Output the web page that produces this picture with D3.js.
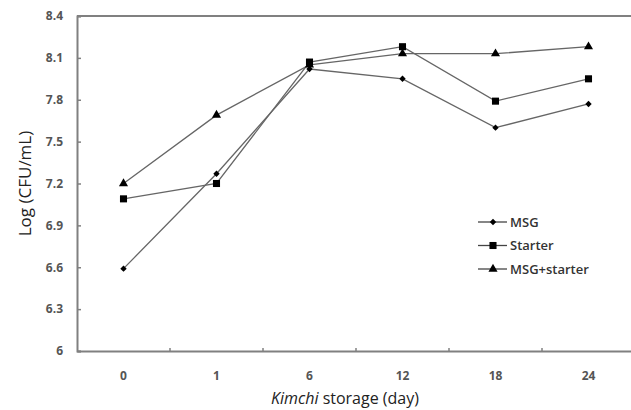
<!DOCTYPE html>
<html>
<head>
<meta charset="utf-8">
<script src="https://cdn.jsdelivr.net/npm/d3@7"></script>
<style>
  body { margin: 0; background: #fff; }
  svg text { font-family: "Open Sans", "DejaVu Sans", sans-serif; }
</style>
</head>
<body>
<div id="chart"></div>
<script>
// storage days and readings
const days = ["0", "1", "6", "12", "18", "24"];
const msg = [6.59, 7.27, 8.02, 7.95, 7.60, 7.77];
const starter = [7.09, 7.20, 8.07, 8.18, 7.79, 7.95];
const msgStarter = [7.20, 7.69, 8.05, 8.13, 8.13, 8.18];
const yTicks = [6, 6.3, 6.6, 6.9, 7.2, 7.5, 7.8, 8.1, 8.4];

const series = [
    { name: "MSG", values: msg, symbol: d3.symbolDiamond2 || d3.symbolDiamond, size: 26 },
    { name: "Starter", values: starter, symbol: d3.symbolSquare, size: 50 },
    { name: "MSG+starter", values: msgStarter, symbol: d3.symbolTriangle, size: 36 }
];

const W = 631, H = 410;
const plot = { left: 77, top: 16, bottom: 351, right: 635 };

const svg = d3.select("#chart").append("svg")
    .attr("width", W)
    .attr("height", H);

const x = d3.scaleBand().domain(days).range([plot.left, plot.right]);
const y = d3.scaleLinear().domain([6, 8.4]).range([plot.bottom, plot.top]);

const axisColor = "#808080";

// top frame line
svg.append("line")
    .attr("x1", plot.left).attr("x2", W)
    .attr("y1", plot.top).attr("y2", plot.top)
    .attr("stroke", axisColor).attr("stroke-width", 2);

// y axis, ticks pointing inward
const yAxis = svg.append("g")
    .attr("transform", `translate(${plot.left},0)`)
    .call(d3.axisRight(y).tickValues(yTicks).tickSize(4).tickFormat(d => d === 6 ? "6" : d3.format(".1f")(d)));
yAxis.select(".domain").attr("stroke", axisColor).attr("stroke-width", 2);
yAxis.selectAll(".tick line").attr("stroke", axisColor).attr("stroke-width", 1.5);
yAxis.selectAll(".tick text")
    .attr("x", -14)
    .attr("text-anchor", "end")
    .attr("fill", "#555")
    .style("font-size", "12px")
    .style("font-weight", "bold");

// x axis: ticks between categories, pointing up
const xAxis = svg.append("g")
    .attr("transform", `translate(0,${plot.bottom})`)
    .call(d3.axisBottom(x).tickSize(0).tickSizeOuter(0));
xAxis.select(".domain").attr("stroke", axisColor).attr("stroke-width", 2);
xAxis.selectAll(".tick text")
    .attr("y", 20)
    .attr("fill", "#555")
    .style("font-size", "12px")
    .style("font-weight", "bold");
xAxis.selectAll(".sep")
    .data(days.slice(1))
    .enter().append("line")
    .attr("x1", d => x(d)).attr("x2", d => x(d))
    .attr("y1", 0).attr("y2", -3)
    .attr("stroke", axisColor).attr("stroke-width", 1.5);

// axis titles
svg.append("text")
    .attr("transform", `translate(31,${(plot.top + plot.bottom) / 2}) rotate(-90)`)
    .attr("text-anchor", "middle")
    .attr("fill", "#222")
    .style("font-size", "17px")
    .text("Log (CFU/mL)");

const xt = svg.append("text")
    .attr("x", 345).attr("y", 404)
    .attr("text-anchor", "middle")
    .attr("fill", "#222")
    .style("font-size", "16px");
xt.append("tspan").style("font-style", "italic").text("Kimchi");
xt.append("tspan").text(" storage (day)");

const cx = i => x(days[i]) + x.bandwidth() / 2;
const line = d3.line().x((d, i) => cx(i)).y(d => y(d));

series.forEach(s => {
    svg.append("path")
        .datum(s.values)
        .attr("d", line)
        .attr("fill", "none")
        .attr("stroke", "#666")
        .attr("stroke-width", 1.3);
});

series.forEach(s => {
    svg.selectAll(null)
        .data(s.values)
        .enter().append("path")
        .attr("d", d3.symbol().type(s.symbol).size(s.size))
        .attr("transform", (d, i) => `translate(${cx(i)},${y(d)})`)
        .attr("fill", "#000");
});

// legend
const legend = svg.append("g").attr("transform", "translate(478,222)");
series.forEach((s, i) => {
    const g = legend.append("g").attr("transform", `translate(0,${i * 23.5})`);
    g.append("line")
        .attr("x1", 0).attr("x2", 29)
        .attr("stroke", "#444").attr("stroke-width", 1.3);
    g.append("path")
        .attr("d", d3.symbol().type(s.symbol).size(s.size))
        .attr("transform", "translate(15,0)")
        .attr("fill", "#000");
    g.append("text")
        .attr("x", 32).attr("y", 4.5)
        .attr("fill", "#333")
        .style("font-size", "13px")
        .style("font-weight", "600")
        .text(s.name);
});
</script>
</body>
</html>
